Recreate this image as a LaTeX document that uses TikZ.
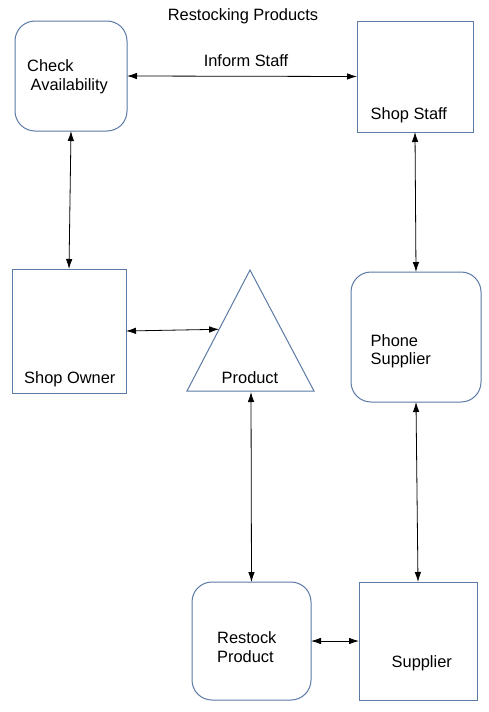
\documentclass[tikz,border=0pt]{standalone}
\usepackage{fontspec}
\setmainfont{Liberation Sans}
\usetikzlibrary{arrows.meta,calc}
\definecolor{boxblue}{RGB}{92,122,166}
\begin{document}
\begin{tikzpicture}[x=1pt,y=-1pt,
  shapebox/.style={draw=boxblue,line width=1pt,inner sep=0pt,outer sep=0pt},
  roundbox/.style={shapebox,rounded corners=20pt},
  lbl/.style={font=\fontsize{16.4}{19}\selectfont,inner sep=0pt,anchor=base west},
  arr/.style={{Latex[length=10pt,width=6.5pt]}-{Latex[length=10pt,width=6.5pt]},line width=0.8pt}]
\fill[white] (0,0) rectangle (489,712);
\useasboundingbox (0,0) rectangle (489,712);
% shapes
\node[roundbox,minimum width=112pt,minimum height=110pt] (ca) at (71,76) {};
\node[shapebox,minimum width=116pt,minimum height=111pt] (ss) at (415,76.5) {};
\node[shapebox,minimum width=114pt,minimum height=124pt] (so) at (69,331) {};
\node[roundbox,minimum width=130pt,minimum height=130pt] (ps) at (416,337) {};
\node[roundbox,minimum width=119pt,minimum height=118pt] (rp) at (251.5,641) {};
\node[shapebox,minimum width=118pt,minimum height=118pt] (sup) at (418,641) {};
\coordinate (tA) at (250,270);
\coordinate (tL) at (187,391);
\coordinate (tR) at (314,391);
\draw[boxblue,line width=1pt,line join=miter] (tA) -- (tL) -- (tR) -- cycle;
\coordinate (tin) at ($(tA)!0.49!(tL)$);
\coordinate (tbot) at (251,392);
% connectors
\draw[arr] (ca.east) -- (ss.west);
\draw[arr] (ca.south) -- (so.north);
\draw[arr] (so.east) -- (tin);
\draw[arr] (tbot) -- (rp.north);
\draw[arr] (rp.east) -- (sup.west);
\draw[arr] (ss.south) -- (ps.north);
\draw[arr] (ps.south) -- (sup.north);
% labels
\node[lbl,anchor=base] (title) at (243,20) {Restocking Products};
\node[lbl,anchor=base] (inf) at (246,66) {Inform Staff};
\node[lbl] (ca1) at (27,71) {Check};
\node[lbl] (ca2) at (30.5,90) {Availability};
\node[lbl] (ssl) at (370.5,119) {Shop Staff};
\node[lbl] (sol) at (24,383) {Shop Owner};
\node[lbl,anchor=base] (pl) at (250,383) {Product};
\node[lbl] (ps1) at (370.5,346) {Phone};
\node[lbl] (ps2) at (370.5,364.5) {Supplier};
\node[lbl] (rp1) at (217,643) {Restock};
\node[lbl] (rp2) at (217,662) {Product};
\node[lbl] (supl) at (391.5,667) {Supplier};
\end{tikzpicture}
\end{document}
